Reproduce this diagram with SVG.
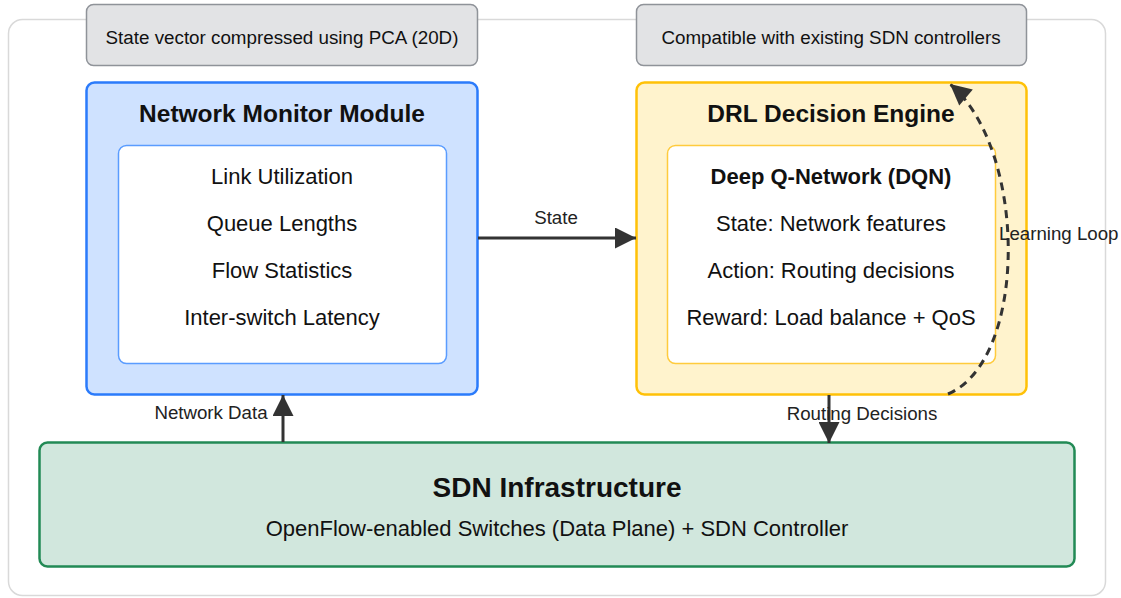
<svg xmlns="http://www.w3.org/2000/svg" width="1121" height="598" viewBox="0 0 1121 598">
<style>
text{font-family:"Liberation Sans",Arial,sans-serif;fill:#111;text-anchor:middle}
.note{fill:#e2e3e5;stroke:#8f9399;stroke-width:1.5}
.nt{font-size:18.8px}
.t{font-size:24.5px;font-weight:bold}
.it{font-size:22px}
.lbl{font-size:18.7px;fill:#222}
.conn{stroke:#333;stroke-width:3;fill:none}
</style>
<defs>
<marker id="ahb" viewBox="0 0 10 10" refX="10" refY="5" markerWidth="28" markerHeight="21" markerUnits="userSpaceOnUse" orient="auto">
<path d="M0,0 L10,5 L0,10 Z" fill="#333"/>
</marker>
</defs>
<rect x="8.5" y="19.5" width="1097" height="576" rx="14" fill="#fff" stroke="#d9d9d9" stroke-width="1.5"/>
<g id="note-pca">
<rect class="note" x="86.5" y="4.5" width="391" height="61" rx="7"/>
<text class="nt" x="282" y="43.5">State vector compressed using PCA (20D)</text>
</g>
<g id="note-compat">
<rect class="note" x="636.5" y="4.5" width="390" height="61" rx="7"/>
<text class="nt" x="831" y="43.5">Compatible with existing SDN controllers</text>
</g>
<g id="monitor">
<rect x="86.5" y="82.5" width="391" height="312" rx="8" fill="#cfe2ff" stroke="#2b7bfb" stroke-width="2.5"/>
<text class="t" x="282" y="122">Network Monitor Module</text>
<rect x="118.5" y="145.5" width="328" height="218" rx="8" fill="#fff" stroke="#5a9cff" stroke-width="1.5"/>
<text class="it" x="282" y="184">Link Utilization</text>
<text class="it" x="282" y="231">Queue Lengths</text>
<text class="it" x="282" y="278">Flow Statistics</text>
<text class="it" x="282" y="325">Inter-switch Latency</text>
</g>
<g id="drl">
<rect x="636.5" y="82.5" width="390" height="312" rx="8" fill="#fff3cd" stroke="#ffc107" stroke-width="2.5"/>
<text class="t" x="831" y="122">DRL Decision Engine</text>
<rect x="667.5" y="145.5" width="328" height="218" rx="8" fill="#fff" stroke="#ffcb3d" stroke-width="1.5"/>
<text class="it" x="831" y="184" style="font-weight:bold">Deep Q-Network (DQN)</text>
<text class="it" x="831" y="231">State: Network features</text>
<text class="it" x="831" y="278">Action: Routing decisions</text>
<text class="it" x="831" y="325">Reward: Load balance + QoS</text>
</g>
<g id="sdn">
<rect x="39.5" y="442.5" width="1035" height="124" rx="8" fill="#d1e7dd" stroke="#228a55" stroke-width="2.5"/>
<text x="557" y="497" style="font-size:28px;font-weight:bold">SDN Infrastructure</text>
<text x="557" y="536" style="font-size:22px">OpenFlow-enabled Switches (Data Plane) + SDN Controller</text>
</g>
<g id="connectors">
<line class="conn" x1="478" y1="238" x2="636" y2="238" marker-end="url(#ahb)"/>
<text class="lbl" x="556" y="224">State</text>
<line class="conn" x1="283" y1="442" x2="283" y2="395" marker-end="url(#ahb)"/>
<text class="lbl" x="211" y="419">Network Data</text>
<line class="conn" x1="829" y1="395" x2="829" y2="443" marker-end="url(#ahb)"/>
<text class="lbl" x="862" y="420">Routing Decisions</text>
<path class="conn" d="M948 394 C1028 360 1028 150 950 84" stroke-dasharray="8,6" stroke-width="2.5" marker-end="url(#ahb)"/>
<text class="lbl" x="999" y="240" style="text-anchor:start">Learning Loop</text>
</g>
</svg>
